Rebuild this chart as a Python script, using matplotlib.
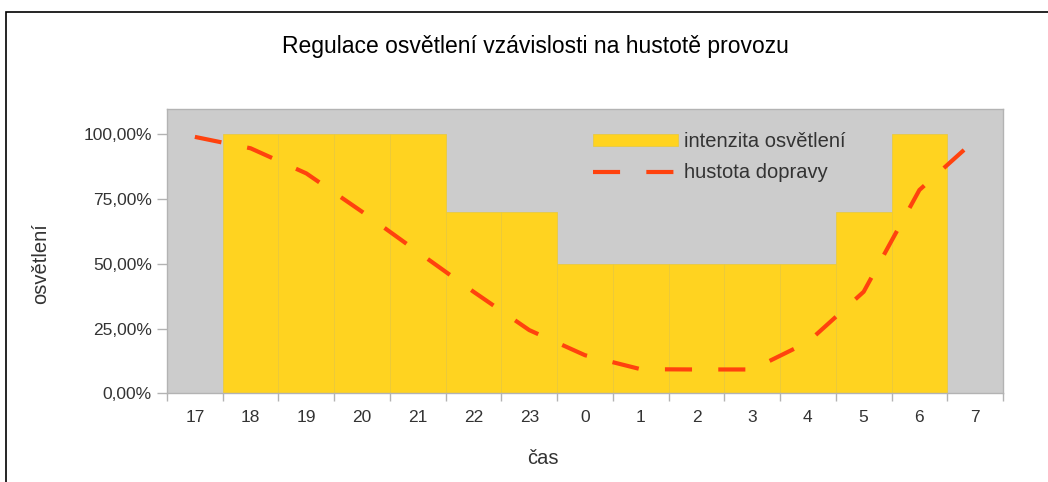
import numpy as np
import matplotlib.pyplot as plt
from matplotlib.patches import Rectangle

plt.rcParams['font.family'] = ['Liberation Sans', 'DejaVu Sans']

hours = ['17', '18', '19', '20', '21', '22', '23', '0', '1', '2', '3', '4', '5', '6', '7']
intenzita = [0.0, 1.0, 1.0, 1.0, 1.0, 0.7, 0.7, 0.5, 0.5, 0.5, 0.5, 0.5, 0.7, 1.0, 0.0]
hustota = [0.99, 0.946, 0.849, 0.701, 0.546, 0.392, 0.244, 0.147, 0.093, 0.092, 0.092, 0.198, 0.392, 0.785, 0.978]

fig = plt.figure(figsize=(10.48, 4.82), dpi=100)
ax = fig.add_axes([167 / 1048, 1 - 393.3 / 482, 836 / 1048, 284 / 482])

# frame of the whole chart (top and left edge visible in the original)
fig.add_artist(Rectangle((6 / 1048, -0.1), 1.2, 1 - 12 / 482 + 0.1, transform=fig.transFigure,
                         fill=False, edgecolor='black', linewidth=1.2))

x = np.arange(len(hours))
ax.set_facecolor('#cccccc')
bars = ax.bar(x, intenzita, width=1.0, color='#ffd320', edgecolor='#e9c93a', linewidth=0.5,
              label='intenzita osvětlení', zorder=2)
line, = ax.plot(x, hustota, color='#ff420e', linewidth=3, label='hustota dopravy', zorder=3)
line.set_dashes([6.5, 6.3])

ax.set_xlim(-0.5, len(hours) - 0.5)
ax.set_ylim(0, 1.0965)

ax.set_yticks([0, 0.25, 0.5, 0.75, 1.0])
ax.set_yticklabels(['0,00%', '25,00%', '50,00%', '75,00%', '100,00%'])
ax.set_xticks(x)
ax.set_xticklabels(hours)
ax.set_xticks(np.arange(len(hours) + 1) - 0.5, minor=True)
ax.tick_params(axis='x', which='major', length=0, pad=12, labelsize=12.5, labelcolor='#333333')
ax.tick_params(axis='x', which='minor', length=6, color='#b3b3b3', width=1)
ax.tick_params(axis='y', length=7, color='#b3b3b3', width=1, pad=4, labelsize=12.5, labelcolor='#333333')

for s in ax.spines.values():
    s.set_color('#b3b3b3')
    s.set_linewidth(1)

ax.set_xlabel('čas', fontsize=14.5, color='#333333')
ax.xaxis.set_label_coords((543 - 167) / 836, -(458 - 393.3) / 284)
ax.xaxis.label.set_va('center')
ax.set_ylabel('osvětlení', fontsize=14.5, color='#333333')
ax.yaxis.set_label_coords(-(167 - 41) / 836, (393.3 - 264) / 284)
ax.yaxis.label.set_va('center')
fig.text(535 / 1048, 1 - 47 / 482, 'Regulace osvětlení vzávislosti na hustotě provozu',
         fontsize=16.5, ha='center', va='center', color='black')

ax.legend(handles=[bars, line], loc='upper left',
          bbox_to_anchor=((593 - 167) / 836, 1 - (132 - 109.3) / 284),
          frameon=False, fontsize=14.5, handlelength=4.2, handleheight=0.6, handletextpad=0.3,
          labelspacing=0.62, borderpad=0, borderaxespad=0, labelcolor='#333333')

fig.savefig('out.png', dpi=100)
